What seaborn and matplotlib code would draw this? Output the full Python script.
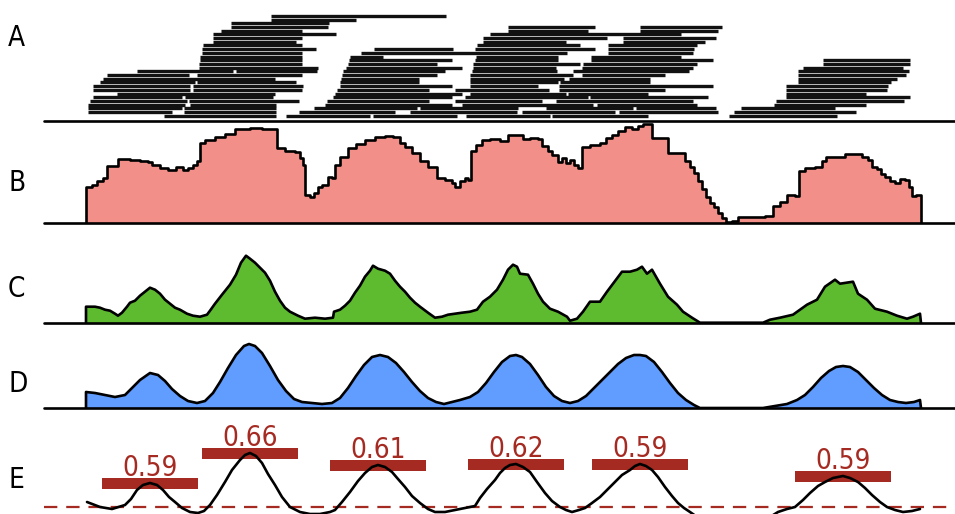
import matplotlib
matplotlib.use("Agg")
import matplotlib.pyplot as plt
import seaborn as sns
import numpy as np

# ---------------- data ----------------
# A: aligned reads, one list per row (top row first), (start, end) positions
read_rows = [
    [(271, 446)],
    [(271, 356)],
    [(231, 329)],
    [(231, 328), (508, 595), (640, 722)],
    [(221, 302), (508, 588), (640, 718)],
    [(213, 336), (490, 681)],
    [(213, 302), (483, 607), (623, 716)],
    [(213, 296), (483, 566), (623, 705)],
    [(203, 302), (477, 580), (608, 697)],
    [(202, 316), (374, 453), (475, 595), (608, 694)],
    [(202, 302), (361, 567), (608, 693)],
    [(200, 302), (350, 383), (476, 558), (591, 681)],
    [(200, 302), (349, 452), (475, 558), (591, 713), (823, 910)],
    [(199, 302), (348, 437), (473, 580), (583, 697), (823, 910)],
    [(199, 318), (346, 462), (473, 556), (582, 693), (803, 903)],
    [(137, 233), (236, 317), (343, 445), (472, 557), (573, 689), (798, 909)],
    [(107, 189), (197, 302), (342, 437), (470, 573), (582, 665), (798, 906)],
    [(103, 275), (341, 419), (470, 564), (569, 650), (798, 897)],
    [(100, 195), (197, 296), (340, 419), (470, 558), (560, 650), (798, 891)],
    [(93, 190), (193, 303), (340, 452), (470, 538), (559, 713), (786, 888)],
    [(93, 190), (193, 302), (337, 429), (455, 549), (559, 665), (786, 887)],
    [(117, 275), (335, 462), (470, 566), (568, 648), (786, 866)],
    [(93, 182), (185, 273), (333, 452), (465, 588), (590, 708), (786, 910)],
    [(90, 187), (189, 299), (327, 429), (455, 542), (556, 693), (776, 904)],
    [(88, 185), (190, 276), (325, 452), (462, 593), (597, 697), (774, 866)],
    [(88, 182), (184, 276), (314, 417), (420, 518), (546, 633), (636, 716), (741, 835)],
    [(88, 172), (184, 276), (299, 395), (410, 517), (522, 615), (619, 718), (734, 856)],
    [(164, 276), (286, 370), (373, 457), (466, 550), (552, 648), (729, 837)],
]

# B: coverage (step profile)
cov_x = [86, 86, 92, 97, 103, 107, 112, 118, 130, 140, 148, 152, 160, 168, 176, 183, 188, 193, 197,
         200, 205, 215, 225, 235, 250, 262, 273, 277, 285, 295, 300, 303, 305, 310, 314, 318, 322,
         328, 332, 335, 340, 348, 356, 365, 375, 385, 393, 400, 405, 412, 420, 428, 437, 445, 452,
         455, 460, 465, 468, 471, 476, 482, 490, 500, 508, 520, 523, 530, 538, 542, 548, 552, 558,
         562, 566, 570, 574, 578, 582, 590, 600, 606, 612, 618, 625, 632, 638, 643, 648, 652, 660,
         668, 680, 685, 690, 694, 698, 702, 706, 710, 714, 718, 722, 726, 732, 738, 765, 773, 780,
         787, 795, 799, 805, 815, 822, 826, 840, 845, 858, 862, 868, 872, 877, 881, 885, 890, 895,
         900, 905, 909, 912, 916, 920, 921]
cov_y = [0, 36, 38, 42, 45, 57, 57, 64, 63, 62, 61, 58, 55, 53, 56, 53, 55, 58, 62,
         80, 83, 86, 89, 94, 95, 94, 94, 75, 72, 71, 65, 58, 28, 26, 30, 36, 38,
         46, 45, 58, 66, 75, 79, 83, 86, 87, 86, 80, 76, 70, 62, 56, 45, 43, 40,
         36, 42, 45, 43, 72, 78, 83, 84, 82, 88, 88, 84, 85, 84, 77, 72, 68, 61,
         65, 60, 63, 58, 55, 76, 78, 80, 85, 88, 92, 96, 94, 97, 99, 99, 85, 85,
         70, 70, 62, 56, 50, 42, 34, 26, 20, 16, 10, 5, 1, 2, 6, 7, 17, 21,
         28, 27, 52, 55, 56, 62, 66, 66, 69, 69, 66, 63, 56, 54, 49, 46, 42, 40,
         44, 43, 36, 27, 28, 28, 0]

# C: raw signal
sig_x = [86, 86, 95, 100, 105, 110, 115, 118, 122, 127, 130, 135, 140, 145, 150, 155, 160, 165, 170,
         175, 180, 187, 193, 200, 207, 210, 215, 222, 230, 236, 241, 246, 250, 255, 260, 265, 270,
         275, 280, 285, 290, 298, 305, 315, 325, 333, 334, 340, 345, 350, 355, 360, 365, 370, 373,
         378, 385, 390, 395, 400, 405, 410, 415, 420, 428, 435, 442, 448, 455, 462, 470, 477, 483,
         490, 497, 503, 508, 513, 517, 520, 528, 533, 538, 543, 550, 558, 567, 570, 577, 583, 590,
         600, 607, 613, 622, 630, 637, 642, 647, 652, 660, 668, 677, 683, 692, 700, 763, 770, 780,
         793, 807, 817, 825, 835, 840, 853, 858, 867, 875, 887, 897, 907, 913, 920, 921]
sig_y = [0, 16, 16, 15, 13, 12, 9, 7, 10, 16, 20, 22, 27, 31, 35, 33, 29, 23, 19,
         15, 13, 9, 7, 6, 8, 12, 19, 28, 38, 48, 60, 67, 64, 60, 55, 50, 42,
         31, 22, 15, 11, 7, 4, 5, 4, 5, 11, 13, 17, 22, 30, 37, 46, 52, 57,
         54, 52, 49, 42, 36, 31, 25, 20, 16, 10, 5, 6, 8, 9, 10, 11, 13, 21,
         26, 33, 43, 53, 58, 56, 49, 48, 39, 29, 21, 14, 11, 6, 2, 4, 11, 21,
         21, 31, 39, 51, 51, 53, 56, 49, 53, 39, 26, 18, 11, 5, 0, 0, 3, 5,
         8, 18, 23, 36, 43, 39, 41, 29, 23, 14, 11, 7, 4, 6, 9, 0]

# D: smoothed signal
smo_x = [86, 86, 95, 105, 115, 125, 132, 140, 150, 158, 165, 172, 180, 188, 197, 205, 213, 220, 228,
         236, 244, 249, 255, 262, 270, 278, 286, 294, 302, 312, 322, 332, 340, 348, 356, 364, 372,
         380, 388, 396, 404, 412, 420, 428, 436, 444, 452, 460, 470, 478, 486, 494, 502, 510, 516,
         522, 530, 538, 546, 554, 562, 570, 578, 586, 594, 602, 610, 618, 626, 634, 640, 646, 654,
         662, 670, 678, 686, 694, 700, 763, 775, 787, 797, 805, 813, 821, 829, 836, 843, 850, 858,
         866, 874, 882, 890, 898, 906, 914, 920, 921]
smo_y = [0, 16, 15, 13, 11, 13, 20, 28, 35, 33, 27, 19, 12, 7, 5, 7, 15, 26, 40,
         53, 62, 64, 62, 55, 42, 28, 17, 9, 6, 5, 4, 5, 10, 20, 32, 43, 51,
         53, 51, 45, 36, 26, 17, 10, 6, 4, 6, 8, 11, 16, 25, 36, 46, 52, 53,
         51, 44, 33, 21, 12, 7, 5, 7, 12, 20, 28, 36, 44, 50, 53, 53, 52, 46,
         36, 25, 15, 8, 3, 0, 0, 2, 4, 8, 13, 21, 30, 37, 41, 42, 41, 36,
         28, 20, 13, 8, 6, 5, 6, 8, 0]

# E: second signal with detected peaks
der_x = [87, 100, 112, 125, 131, 137, 143, 150, 157, 163, 169, 175, 182, 190, 198, 204, 210, 217,
         225, 232, 240, 245, 250, 256, 262, 268, 275, 282, 290, 300, 310, 320, 330, 335, 342, 350,
         358, 365, 372, 378, 385, 392, 398, 405, 412, 420, 428, 435, 445, 455, 465, 475, 480, 487,
         495, 500, 505, 510, 516, 523, 530, 537, 545, 552, 560, 566, 572, 579, 585, 592, 600, 608,
         615, 622, 630, 635, 640, 646, 652, 658, 665, 672, 678, 684, 690, 700, 715, 735, 755, 770,
         778, 787, 795, 803, 810, 818, 825, 833, 843, 850, 858, 865, 872, 880, 887, 895, 903, 912, 920]
der_y = [5, 0, -2, 2, 8, 17, 22, 24, 22, 17, 10, 5, -1, -5, -6, -4, 2, 12,
         25, 37, 47, 52, 54, 51, 44, 33, 22, 10, 0, -5, -7, -7, -5, -3, 5, 15,
         26, 34, 40, 42, 40, 35, 28, 20, 11, 4, -2, -5, -5, -3, -1, 1, 9, 18,
         27, 34, 39, 42, 43, 40, 35, 25, 14, 6, 0, -3, -5, -3, -1, 4, 10, 18,
         25, 32, 37, 41, 43, 41, 37, 30, 20, 11, 4, -1, -5, -12, -18, -20, -18, -10,
         -5, -2, 0, 7, 14, 21, 25, 29, 31, 29, 25, 19, 12, 5, 0, -3, -5, -4, -2]
peak_x = [150, 250, 378, 516, 640, 843]
peak_labels = ["0.59", "0.66", "0.61", "0.62", "0.59", "0.59"]
panel_letters = ["A", "B", "C", "D", "E"]

# ---------------- style ----------------
sns.set_style("white")
plt.rcParams["font.family"] = ["DejaVu Sans"]
FONT = dict(family=["DejaVu Sans"], fontstretch="condensed")

W, H = 955, 514
fig = plt.figure(figsize=(W / 100, H / 100), dpi=100)

RED = "#A52A22"
FILL_B = "#F28F88"
FILL_C = "#5EBB2F"
FILL_D = "#619CFF"
LW = 1.9


def panel(top_px, bottom_px):
    ax = fig.add_axes([0, 1 - bottom_px / H, 1, (bottom_px - top_px) / H])
    ax.set_xlim(0, W)
    ax.axis("off")
    ax.patch.set_alpha(0)
    return ax


XMIN = 44 / W

# A: reads
pitch = 3.7
axA = panel(8, 120.7)
axA.set_ylim(0, 112.7 / pitch)
nrows = len(read_rows)
for i, row in enumerate(read_rows):
    y = 1.35 + (nrows - 1 - i)
    for s, e in row:
        axA.hlines(y, s, e, color="#111111", lw=2.4, capstyle="butt")
axA.axhline(0, xmin=XMIN, xmax=1, color="black", lw=LW, clip_on=False)

# B: coverage
axB = panel(118, 222.7)
axB.set_ylim(0, 104.7)
axB.fill_between(cov_x, cov_y, step="post", color=FILL_B, lw=0)
sns.lineplot(x=cov_x, y=cov_y, ax=axB, color="black", lw=LW, estimator=None, sort=False,
             drawstyle="steps-post")
axB.axhline(0, xmin=XMIN, xmax=1, color="black", lw=LW, clip_on=False)
axB.axis("off")

# C: raw signal
axC = panel(250, 322.7)
axC.set_ylim(0, 72.7)
axC.fill_between(sig_x, sig_y, color=FILL_C, lw=0)
sns.lineplot(x=sig_x, y=sig_y, ax=axC, color="black", lw=LW, estimator=None, sort=False)
axC.axhline(0, xmin=XMIN, xmax=1, color="black", lw=LW, clip_on=False)
axC.axis("off")

# D: smoothed
axD = panel(335, 408)
axD.set_ylim(0, 73)
axD.fill_between(smo_x, smo_y, color=FILL_D, lw=0)
sns.lineplot(x=smo_x, y=smo_y, ax=axD, color="black", lw=LW, estimator=None, sort=False)
axD.axhline(0, xmin=XMIN, xmax=1, color="black", lw=LW, clip_on=False)
axD.axis("off")

# E: peaks
axE = panel(420, 514)
axE.set_ylim(-7, 87)
axE.axhline(0, xmin=XMIN, xmax=1, color=RED, lw=1.6, ls=(0, (6, 4)))
sns.lineplot(x=der_x, y=der_y, ax=axE, color="black", lw=LW, estimator=None, sort=False)
der_lookup = dict(zip(der_x, der_y))
for px, lab in zip(peak_x, peak_labels):
    h = der_lookup[px]
    axE.bar(px, 11, bottom=h - 5.5, width=96, color=RED, lw=0, zorder=1)
    axE.text(px, h + 5.5 + 1.5, lab, ha="center", va="baseline", color=RED, fontsize=20, **FONT)
axE.axis("off")

# panel letters
letter_y = [38, 183, 289, 384, 480]
for lab, y in zip(panel_letters, letter_y):
    fig.text(8 / W, 1 - y / H, lab, ha="left", va="center", fontsize=20, color="black", **FONT)

fig.savefig("out.png", dpi=100)
